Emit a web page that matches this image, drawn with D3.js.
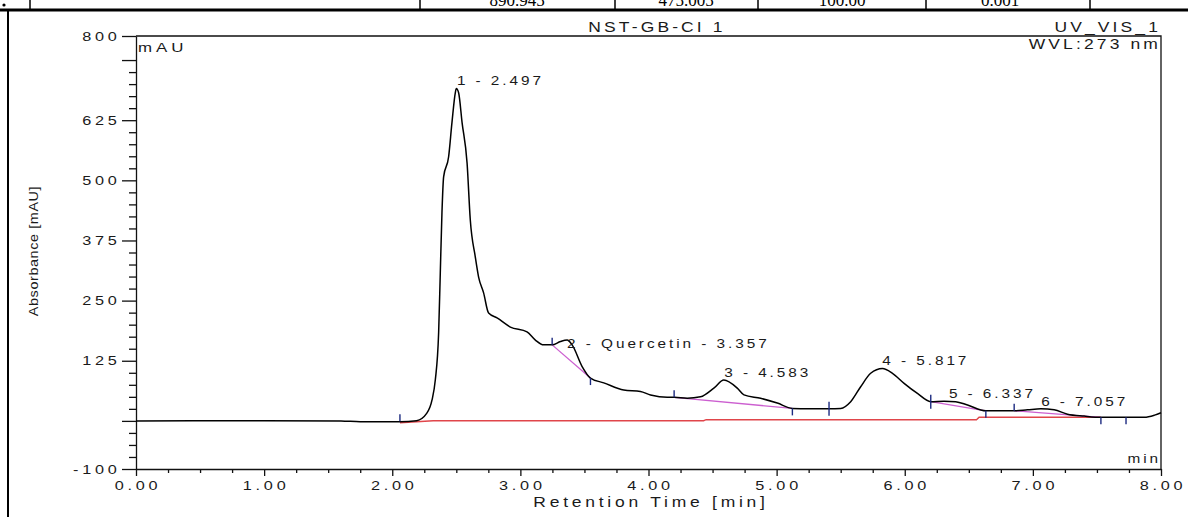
<!DOCTYPE html>
<html>
<head>
<meta charset="utf-8">
<script src="https://cdn.jsdelivr.net/npm/d3@7"></script>
<style>
  body { margin: 0; background: #fff; }
  svg { display: block; }
  text { font-family: Arial, "Liberation Sans", sans-serif; fill: #1a1a1a; }
</style>
</head>
<body>
<div class="canvas"></div>
<script>
// chromatogram trace (retention time in min, absorbance in mAU)
const times = [0, 1.0, 1.6, 1.75, 2.06, 2.19, 2.27, 2.31, 2.336, 2.362, 2.375, 2.388, 2.401, 2.44, 2.466, 2.492, 2.5,
  2.518, 2.545, 2.584, 2.609, 2.648, 2.674, 2.713, 2.752, 2.818, 2.922, 3.052, 3.117, 3.182, 3.248, 3.313, 3.365,
  3.404, 3.482, 3.547, 3.651, 3.807, 3.937, 4.016, 4.146, 4.2, 4.302, 4.406, 4.51, 4.588, 4.693, 4.745, 4.875,
  5.005, 5.123, 5.25, 5.409, 5.5, 5.578, 5.656, 5.734, 5.826, 5.904, 5.995, 6.099, 6.203, 6.307, 6.398, 6.49,
  6.633, 6.75, 6.854, 6.958, 7.062, 7.166, 7.27, 7.4, 7.531, 7.727, 7.87, 7.95, 8.0]
const absorbance = [0, 0.5, 0, -2, -2, 0.4, 16, 43, 85, 183, 308, 433, 507, 549, 620, 682, 691,
  682, 620, 536, 418, 341, 299, 266, 224, 214, 195, 185, 168, 158, 158, 165, 168,
  158, 113, 89, 79, 64, 61, 54, 49, 49, 47, 50, 68, 85, 68, 54, 47,
  37, 26, 25, 25, 26, 40, 71, 99, 109, 99, 78, 57, 40, 41, 40, 33,
  21, 21, 21, 23, 25, 23, 14, 10, 7.5, 7.5, 7.5, 12, 17]

// red reference trace
const refTimes = [2.06, 2.32, 4.43, 4.45, 6.56, 6.58, 7.53]
const refAbs = [-4, 0.4, 0.4, 2.5, 2.5, 7.5, 7.5]

// peaks
const peakNames = ["1 - 2.497", "2 - Quercetin - 3.357", "3 - 4.583", "4 - 5.817", "5 - 6.337", "6 - 7.057"]
const peakTimes = [2.497, 3.357, 4.583, 5.817, 6.337, 7.057]
const peakHeights = [691, 168, 85, 109, 41, 25]

// peak delimiters (s = start, e = end)
const delimTimes = [2.06, 3.248, 3.547, 4.2, 5.123, 5.409, 6.203, 6.633, 6.854, 7.531, 7.727]
const delimAbs = [-1, 158, 89, 49, 26, 25, 40, 21, 21, 7.5, 7.5]
const delimKinds = ["s", "s", "e", "s", "e", "se", "se", "e", "s", "e", "e"]

// integration baselines
const baseFromT = [3.248, 4.2, 6.203, 6.854]
const baseFromA = [158, 49, 40, 21]
const baseToT = [3.547, 5.123, 6.633, 7.531]
const baseToA = [89, 26, 21, 7.5]

// axes
const yMajor = [-100, 0, 125, 250, 375, 500, 625, 750, 800]
const yLabels = [-100, 125, 250, 375, 500, 625, 800]
const xMajor = [0, 1, 2, 3, 4, 5, 6, 7, 8]

// report table row cut at the top of the page
const tableValues = ["890.945", "475.005", "100.00", "0.001"]

const W = 1188, H = 517
const svg = d3.select(".canvas").append("svg")
  .attr("width", W).attr("height", H)

const x = d3.scaleLinear().domain([0, 8]).range([136, 1161])
const y = d3.scaleLinear().domain([-100, 800]).range([469, 36])

// stretched, letter-spaced text like the original printout
function label(parent, px, py, str, o) {
  const g = parent.append("g")
    .attr("transform", `translate(${px},${py})${o.rot ? " rotate(" + o.rot + ")" : ""} scale(${o.sx || 1.18},1)`)
  g.append("text")
    .attr("text-anchor", o.anchor || "start")
    .style("font-size", (o.size || 13) + "px")
    .style("letter-spacing", (o.ls == null ? 2.5 : o.ls) + "px")
    .text(str)
  return g
}

// ---- top table fragment ----
svg.append("line").attr("x1", 0).attr("x2", W).attr("y1", 10).attr("y2", 10)
  .attr("stroke", "#000").attr("stroke-width", 3)
;[30, 420, 615, 758, 926, 1090].forEach(vx => {
  svg.append("line").attr("x1", vx).attr("x2", vx).attr("y1", 0).attr("y2", 10)
    .attr("stroke", "#000").attr("stroke-width", 1.5)
})
const cellCenters = [517, 686, 842, 1000]
tableValues.forEach((v, i) => {
  svg.append("text").attr("x", cellCenters[i]).attr("y", 6)
    .attr("text-anchor", "middle")
    .style("font-family", "'Liberation Serif', 'Times New Roman', serif")
    .style("font-size", "17px").style("fill", "#000")
    .text(v)
})
svg.append("circle").attr("cx", 4).attr("cy", 5).attr("r", 1.6).attr("fill", "#000")
svg.append("line").attr("x1", 8).attr("x2", 8).attr("y1", 10).attr("y2", H)
  .attr("stroke", "#000").attr("stroke-width", 2)

// ---- frame and axes ----
const yMinor = d3.range(-75, 750, 25).filter(v => v % 125 !== 0)
const xMinor = d3.range(0, 8, 0.25).filter(v => v % 1 !== 0)

svg.append("g").attr("transform", "translate(136,0)")
  .call(d3.axisLeft(y).tickValues(yMinor).tickSize(7).tickSizeOuter(0).tickFormat(""))
  .call(g => g.select(".domain").remove())
svg.append("g").attr("transform", "translate(136,0)")
  .call(d3.axisLeft(y).tickValues(yMajor).tickSize(14).tickSizeOuter(0).tickFormat(""))

svg.append("g").attr("transform", "translate(0,469)")
  .call(d3.axisBottom(x).tickValues(xMinor).tickSize(4).tickSizeOuter(0).tickFormat(""))
  .call(g => g.select(".domain").remove())
svg.append("g").attr("transform", "translate(0,469)")
  .call(d3.axisBottom(x).tickValues(xMajor).tickSize(7).tickSizeOuter(0).tickFormat(""))

svg.selectAll(".tick line, .domain").attr("stroke", "#111").attr("stroke-width", 1.3)

// top and right border
svg.append("path")
  .attr("d", `M${x(0)},${y(800)}H${x(8)}V${y(-100)}`)
  .attr("fill", "none").attr("stroke", "#111").attr("stroke-width", 1.3)

yLabels.forEach(v => label(svg, 120.5, y(v) + 4.5, v, { anchor: "end", ls: 3, sx: 1.25 }))
xMajor.forEach(v => label(svg, x(v) + 2, 490, v.toFixed(2), { anchor: "middle", ls: 3, sx: 1.25 }))

label(svg, 651, 507, "Retention Time [min]", { anchor: "middle", size: 14, ls: 3, sx: 1.25 })
label(svg, 37.5, 251, "Absorbance [mAU]", { anchor: "middle", size: 12, ls: 0.5, sx: 1.2, rot: -90 })
label(svg, 138, 52, "mAU", { ls: 3, sx: 1.3 })
label(svg, 1161, 463, "min", { anchor: "end" })

label(svg, 657, 32, "NST-GB-CI 1", { anchor: "middle", size: 14, sx: 1.25 })
label(svg, 1161, 32, "UV_VIS_1", { anchor: "end", size: 14, sx: 1.25 })
label(svg, 1161, 49, "WVL:273 nm", { anchor: "end", size: 14, sx: 1.25 })

// ---- traces ----
const trace = times.map((t, i) => ({ t, v: absorbance[i] }))
const ref = refTimes.map((t, i) => ({ t, v: refAbs[i] }))
const line = d3.line().x(d => x(d.t)).y(d => y(d.v))

svg.append("path").attr("d", line(ref))
  .attr("fill", "none").attr("stroke", "#e0454a").attr("stroke-width", 1.4)

baseFromT.forEach((t, i) => {
  svg.append("path")
    .attr("d", line([{ t, v: baseFromA[i] }, { t: baseToT[i], v: baseToA[i] }]))
    .attr("fill", "none").attr("stroke", "#cc5fd0").attr("stroke-width", 1.3)
})

svg.append("path").attr("d", line.curve(d3.curveMonotoneX)(trace))
  .attr("fill", "none").attr("stroke", "#000").attr("stroke-width", 1.5)

delimTimes.forEach((t, i) => {
  const k = delimKinds[i]
  const top = k.includes("s") ? 7 : 0
  const bot = k.includes("e") ? 7 : 0
  svg.append("line")
    .attr("x1", x(t)).attr("x2", x(t))
    .attr("y1", y(delimAbs[i]) - top).attr("y2", y(delimAbs[i]) + bot)
    .attr("stroke", "#1c2a80").attr("stroke-width", 1.4)
})

// peak labels (label 2 sits lower, beside the small shoulder peak)
const labelNudge = { 1: 11 }
peakNames.forEach((name, i) => {
  label(svg, x(peakTimes[i]) + 1, y(peakHeights[i]) - 3 + (labelNudge[i] || 0), name, {})
})
</script>
</body>
</html>
